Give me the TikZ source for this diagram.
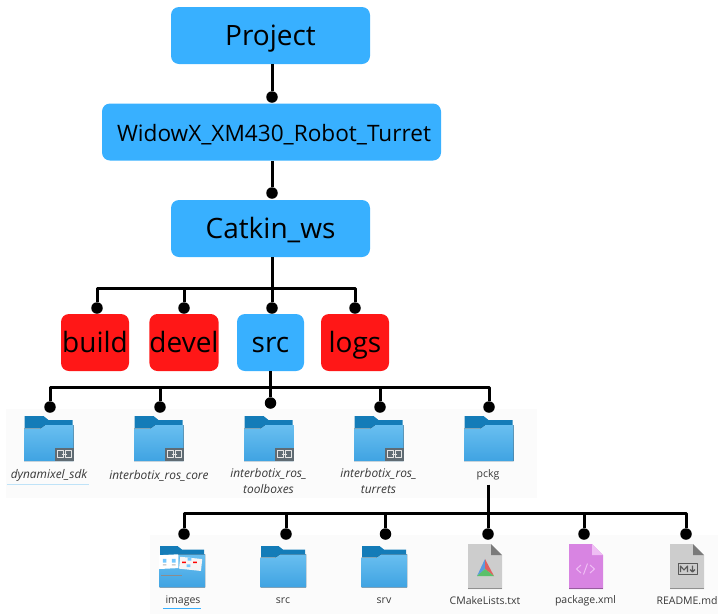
\documentclass[tikz,border=0pt]{standalone}
\usepackage{fontspec}
\setmainfont{Open Sans}
\usetikzlibrary{calc}
\definecolor{boxblue}{HTML}{38B0FF}
\definecolor{boxred}{HTML}{FF1717}
\definecolor{tabblue}{HTML}{147CB8}
\definecolor{folderup}{HTML}{69BFF0}
\definecolor{folderdn}{HTML}{3FA3E2}
\definecolor{panelgray}{HTML}{FBFBFB}
\definecolor{filegray}{HTML}{CDCDCD}
\definecolor{foldgray}{HTML}{7A7A7A}
\definecolor{filepurple}{HTML}{D884E2}
\definecolor{foldpurple}{HTML}{EFBDF4}
\definecolor{linkblue}{HTML}{BFE3F8}
\definecolor{badgegray}{HTML}{5F6B73}
\definecolor{cmakeblue}{HTML}{5B9BE0}
\definecolor{cmakered}{HTML}{E0605F}
\definecolor{cmakegreen}{HTML}{5BC06A}
\tikzset{
box/.style={rounded corners=8pt,inner sep=0pt,text=black,text height=22pt,text depth=2pt},
bigbox/.style={box,fill=boxblue,minimum width=199pt,minimum height=57pt,font=\fontsize{28}{30}\selectfont},
smallbox/.style={box,minimum height=57pt,font=\fontsize{28}{30}\selectfont},
dot/.style={circle,fill=black,inner sep=0pt,minimum size=11.5pt},
conn/.style={line width=3pt,draw=black},
fname/.style={font=\fontsize{10.5}{16}\selectfont,text=black!78,align=center,inner sep=0pt},
itname/.style={fname,font=\fontsize{11.9}{16}\selectfont\itshape},
folder/.pic={
\fill[tabblue] (0,0)--(19,0)--(24,4)--(48,4)--(48,12)--(0,12)--cycle;
\fill[top color=folderup,bottom color=folderdn] (-0.5,12.5)--(16,12.5)--(21,9)--(49,9)--(49,45)--(-0.5,45)--cycle;
},
linkbadge/.pic={
\fill[badgegray] (30,31.5) rectangle (49.5,44.5);
\draw[white!90!black,line width=1pt] (33,34.5) rectangle (38.5,41.5) (41,34.5) rectangle (46.5,41.5) (37,38)--(42.5,38);
},
thumbs/.pic={
\fill[white] (-1,10)--(20,9)--(20,24)--(-1,25)--cycle;
\fill[black!4,rotate around={-6:(25,12)}] (22,12) rectangle (46,25);
\fill[boxblue!70] (3,14) rectangle (7,18) (13,14) rectangle (17,18);
\fill[black!30] (3,20) rectangle (7,21) (13,20) rectangle (17,21);
\fill[red] (24,17) rectangle (28,18.5) (36,17) rectangle (40,18.5);
\fill[boxblue!70] (30,13) rectangle (34,16) (29,20) rectangle (33,23);
\fill[black!45] (1,31) rectangle (24,33);
},
sheet/.pic={
\fill[#1] (0,0)--(23,0)--(34,11)--(34,45)--(0,45)--cycle;
\fill[#1!70!black] (0,44) rectangle (34,45);
},
}
\begin{document}
\begin{tikzpicture}[x=1pt,y=-1pt,line join=round,line cap=butt]
\useasboundingbox (0,0) rectangle (718,614);
\fill[panelgray] (6,409) rectangle (537,498);
\fill[panelgray] (150,535) rectangle (718,614);
% boxes
\node[bigbox] (project) at (270.5,35.5) {Project};
\node[bigbox,minimum width=339pt,text height=21pt,font=\fontsize{22.6}{25}\selectfont] (widow) at (271.5,132) {\hspace*{5pt}WidowX\_XM430\_Robot\_Turret};
\node[bigbox] (catkin) at (270.5,228.5) {Catkin\_ws};
\node[smallbox,fill=boxred,minimum width=68pt] (build) at (95,342.5) {build};
\node[smallbox,fill=boxred,minimum width=68pt] (devel) at (184,342.5) {devel};
\node[smallbox,fill=boxblue,minimum width=67pt] (srcbox) at (270.5,342.5) {src};
\node[smallbox,fill=boxred,minimum width=68pt] (logs) at (355,342.5) {logs};
% top chain
\node[dot] (dotwidow) at (272,97) {};
\node[dot] (dotcatkin) at (272,193) {};
\draw[conn] (272,64)--(dotwidow);
\draw[conn] (272,161)--(dotcatkin);
\coordinate (catkinbus) at (272,288);
\draw[conn] (272,257)--(catkinbus);
\foreach \x/\n in {97/dotbuild,184/dotdevel,272/dotsrc,355/dotlogs}{
\node[dot] (\n) at (\x,308) {};
\draw[conn] (catkinbus) -| (\n);
}
% src folders
\coordinate (srcbus) at (270.5,387);
\draw[conn] (srcbox.south)--(srcbus);
\foreach \x/\y/\n in {50/407/dotdyn,160/407/dotcore,270.5/403/dottool,380/407/dotturret,489/407/dotpckg}{
\node[dot] (\n) at (\x,\y) {};
\draw[conn] (srcbus) -| (\n);
}
\foreach \x in {24.5,134.5,244.5,354.5,464.5}{\pic at (\x,416) {folder};}
\foreach \x in {24.5,134.5,244.5,354.5}{\pic at (\x,416) {linkbadge};}
\node[itname] (dyn) at (49,475.5) {dynamixel\_sdk};
\fill[linkblue] (7,484) rectangle (89,485);
\node[itname] (core) at (159,475.5) {interbotix\_ros\_core};
\node[itname,anchor=north] (tool) at (268.5,468) {interbotix\_ros\_\\toolboxes};
\node[itname,anchor=north] (turret) at (378.5,468) {interbotix\_ros\_\\turrets};
\node[fname,text height=7pt,text depth=3pt] (pckg) at (488,475.5) {pckg};
% pckg contents
\coordinate (pckgbus) at (488,513);
\draw[conn] (pckg.south)++(0,4)--(pckgbus);
\foreach \x/\n in {184/dotimages,286/dotsubsrc,385.5/dotsrv,488/dotcmake,584/dotxml,686/dotreadme}{
\node[dot] (\n) at (\x,534) {};
\draw[conn] (pckgbus) -| (\n);
}
\foreach \x in {160,261,362}{\pic[scale=0.92] at (\x,546) {folder};}
\pic[scale=0.92] at (160,546) {thumbs};
\pic at (468,544) {sheet=filegray};
\pic at (569,544) {sheet=filepurple};
\pic at (670,544) {sheet=filegray};
% fold corners
\foreach \x/\c in {468/foldgray,670/foldgray,569/foldpurple}{
\fill[\c] (\x+23,544)--(\x+34,555)--(\x+23,555)--cycle;
}
% cmake mark
\fill[cmakeblue] (477,576)--(485,559)--(485,569)--cycle;
\fill[cmakered] (485,559)--(494,576)--(485,569)--cycle;
\fill[cmakegreen] (477,576)--(485,569)--(494,576)--cycle;
% xml mark
\draw[foldpurple,line width=1pt] (581,565)--(576.5,569)--(581,573) (590,565)--(594.5,569)--(590,573) (587.5,563.5)--(583.5,574.5);
% readme mark
\draw[black!65,line width=1pt] (678.5,563.5) rectangle (697,574);
\draw[black!65,line width=1.1pt] (680.5,572)--(680.5,566)--(684,570)--(687.5,566)--(687.5,572) (692.5,565.5)--(692.5,572) (690,569.5)--(692.5,572)--(695,569.5);
\node[fname] (images) at (183,601) {images};
\fill[boxblue] (163,608) rectangle (201,608.8);
\node[fname] (subsrc) at (283,601) {src};
\node[fname] (srv) at (384,601) {srv};
\node[fname] (cmake) at (485,601) {CMakeLists.txt};
\node[fname] (xml) at (585.5,601) {package.xml};
\node[fname] (readme) at (687,601) {README.md};
\end{tikzpicture}
\end{document}
